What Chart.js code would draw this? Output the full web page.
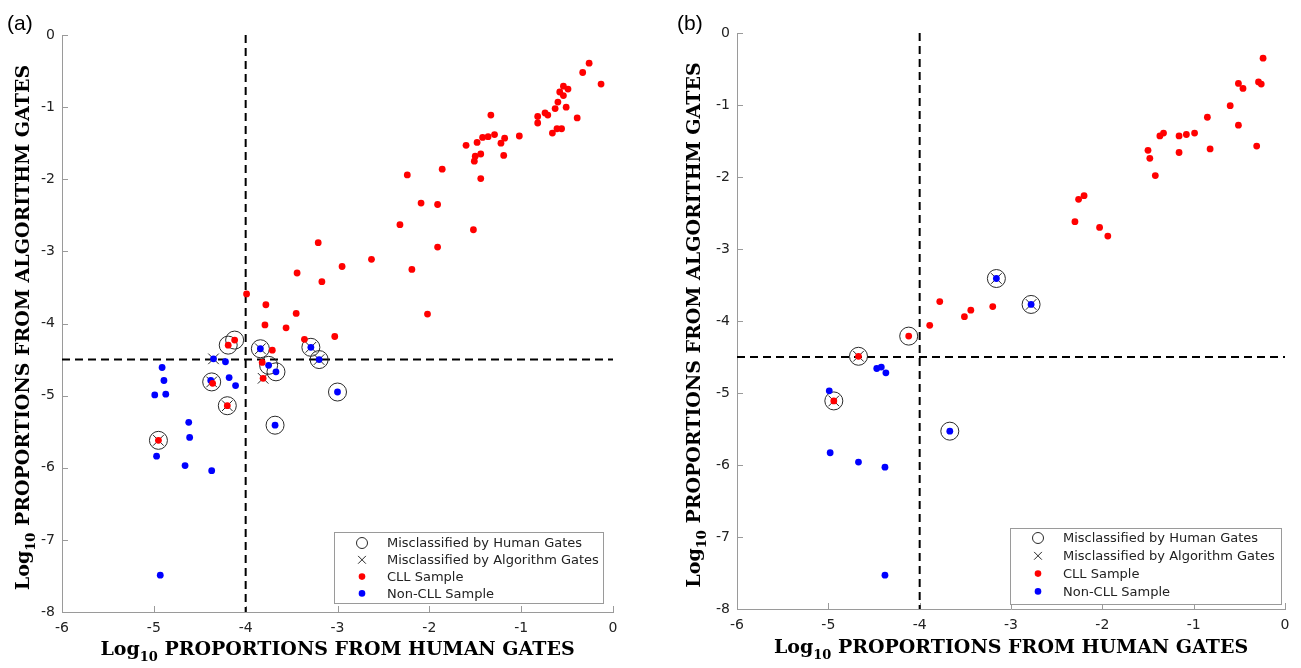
<!DOCTYPE html>
<html>
<head>
<meta charset="utf-8">
<script src="https://cdn.jsdelivr.net/npm/chart.js@4.4.0/dist/chart.umd.min.js"></script>
<style>
  html,body{margin:0;padding:0;background:#fff;}
  #wrap{position:relative;width:1301px;height:668px;overflow:hidden;}
  canvas{position:absolute;top:0;}
  #chartA{left:0;}
  #chartB{left:675px;}
</style>
</head>
<body>
<div id="wrap">
  <canvas id="chartA" width="650" height="668"></canvas>
  <canvas id="chartB" width="626" height="668"></canvas>
</div>
<script>
// axes / thresholds (log10 proportions)
const xTicks = [-6, -5, -4, -3, -2, -1, 0];
const yTicks = [0, -1, -2, -3, -4, -5, -6, -7, -8];
const humanThreshold = -4;    // vertical dashed line
const algoThreshold = -4.5;   // horizontal dashed line

// panel (a): [human, algorithm]
const cllA = [
  [-0.26,-0.39],[-0.33,-0.52],[-0.13,-0.68],[-0.54,-0.71],[-0.49,-0.75],[-0.58,-0.79],[-0.54,-0.84],
  [-0.60,-0.93],[-0.51,-1.00],[-0.63,-1.02],[-0.39,-1.15],[-0.82,-1.13],[-0.82,-1.22],[-0.74,-1.08],
  [-0.71,-1.11],[-0.56,-1.30],[-0.61,-1.30],[-0.66,-1.36],[-1.33,-1.11],[-1.02,-1.40],[-1.18,-1.43],
  [-1.22,-1.50],[-1.19,-1.67],[-1.29,-1.38],[-1.36,-1.41],[-1.42,-1.42],[-1.48,-1.49],[-1.60,-1.53],
  [-1.44,-1.65],[-1.50,-1.68],[-1.51,-1.75],[-1.44,-1.99],[-1.86,-1.86],[-2.24,-1.94],[-2.09,-2.33],
  [-1.91,-2.35],[-2.32,-2.63],[-1.52,-2.70],[-3.21,-2.88],[-1.91,-2.94],[-2.63,-3.11],[-2.19,-3.25],
  [-2.95,-3.21],[-3.44,-3.30],[-3.17,-3.42],[-3.99,-3.59],[-3.78,-3.74],[-3.45,-3.86],[-2.02,-3.87],
  [-3.79,-4.02],[-3.56,-4.06],[-3.03,-4.18],[-3.36,-4.22],[-4.12,-4.23],[-4.19,-4.30],[-3.71,-4.37],
  [-3.82,-4.54],[-3.81,-4.76],[-4.36,-4.83],[-4.20,-5.14],[-4.95,-5.62]
];
const nonCllA = [
  [-3.29,-4.33],[-3.84,-4.35],[-3.20,-4.50],[-4.35,-4.49],[-4.22,-4.53],[-3.75,-4.58],[-3.67,-4.67],
  [-4.91,-4.61],[-4.89,-4.79],[-4.99,-4.99],[-4.87,-4.98],[-4.38,-4.79],[-4.18,-4.75],[-4.11,-4.86],
  [-3.00,-4.95],[-3.68,-5.41],[-4.62,-5.37],[-4.61,-5.58],[-4.97,-5.84],[-4.66,-5.97],[-4.37,-6.04],
  [-4.93,-7.49]
];
const humanMissA = [
  [-4.12,-4.23],[-4.19,-4.30],[-3.84,-4.35],[-3.29,-4.33],[-3.20,-4.50],[-3.75,-4.58],[-3.67,-4.67],
  [-4.37,-4.81],[-4.20,-5.14],[-3.00,-4.95],[-3.68,-5.41],[-4.95,-5.62]
];
const algoMissA = [
  [-4.35,-4.49],[-3.84,-4.35],[-3.29,-4.33],[-3.20,-4.50],[-4.37,-4.81],[-4.20,-5.14],[-4.95,-5.62],
  [-3.81,-4.76]
];

// panel (b)
const cllB = [
  [-0.24,-0.35],[-0.51,-0.70],[-0.46,-0.77],[-0.29,-0.68],[-0.26,-0.71],[-0.60,-1.01],[-0.51,-1.28],
  [-0.31,-1.57],[-0.85,-1.17],[-0.82,-1.61],[-0.99,-1.39],[-1.08,-1.41],[-1.16,-1.43],[-1.16,-1.66],
  [-1.33,-1.39],[-1.37,-1.43],[-1.50,-1.63],[-1.48,-1.74],[-1.42,-1.98],[-2.20,-2.26],[-2.26,-2.31],
  [-2.30,-2.62],[-2.03,-2.70],[-1.94,-2.82],[-3.78,-3.73],[-3.20,-3.80],[-3.44,-3.85],[-3.51,-3.94],
  [-3.89,-4.06],[-4.12,-4.21],[-4.67,-4.49],[-4.94,-5.11]
];
const nonCllB = [
  [-3.16,-3.41],[-2.78,-3.77],[-4.47,-4.66],[-4.42,-4.64],[-4.37,-4.72],[-4.99,-4.97],[-3.67,-5.53],
  [-4.98,-5.83],[-4.67,-5.96],[-4.38,-6.03],[-4.38,-7.53]
];
const humanMissB = [[-3.16,-3.41],[-2.78,-3.77],[-4.12,-4.21],[-4.67,-4.49],[-4.94,-5.11],[-3.67,-5.53]];
const algoMissB = [[-3.16,-3.41],[-2.78,-3.77],[-4.67,-4.49],[-4.94,-5.11]];

const legendLabels = ['Misclassified by Human Gates','Misclassified by Algorithm Gates','CLL Sample','Non-CLL Sample'];

const pts = arr => arr.map(p => ({x:p[0], y:p[1]}));
const AXIS = '#9a9a9a';

function drawLogTitle(ctx, rest, cx, cy, rot){
  ctx.save();
  ctx.translate(cx, cy);
  if(rot) ctx.rotate(-Math.PI/2);
  const big = 'bold 19px "DejaVu Serif"', small = 'bold 13px "DejaVu Serif"';
  ctx.font = big; const w1 = ctx.measureText('Log').width, w3 = ctx.measureText(' '+rest).width;
  ctx.font = small; const w2 = ctx.measureText('10').width;
  let x = -(w1+w2+w3)/2;
  ctx.fillStyle = '#000'; ctx.textAlign = 'left'; ctx.textBaseline = 'alphabetic';
  ctx.font = big; ctx.fillText('Log', x, 0); x += w1;
  ctx.font = small; ctx.fillText('10', x, 6); x += w2;
  ctx.font = big; ctx.fillText(' '+rest, x, 0);
  ctx.restore();
}

const decor = {
  id: 'decor',
  beforeDatasetsDraw(chart){
    // inward tick marks
    const ctx = chart.ctx, {left, bottom} = chart.chartArea;
    const xs = chart.scales.x, ys = chart.scales.y;
    ctx.save();
    ctx.strokeStyle = AXIS; ctx.lineWidth = 1;
    ctx.beginPath();
    xTicks.forEach(v => { const p = Math.round(xs.getPixelForValue(v)) + 0.5; ctx.moveTo(p, bottom); ctx.lineTo(p, bottom - 6); });
    yTicks.forEach(v => { const p = Math.round(ys.getPixelForValue(v)) + 0.5; ctx.moveTo(left, p); ctx.lineTo(left + 6, p); });
    ctx.stroke();
    ctx.restore();
  },
  afterDraw(chart, args, o){
    const ctx = chart.ctx, {left, right, top, bottom} = chart.chartArea;
    drawLogTitle(ctx, 'PROPORTIONS FROM HUMAN GATES', (left+right)/2, o.xTitleY, false);
    drawLogTitle(ctx, 'PROPORTIONS FROM ALGORITHM GATES', o.yTitleX, (top+bottom)/2 + 4, true);
    ctx.save();
    ctx.fillStyle = '#000'; ctx.font = '21px "Liberation Sans"'; ctx.textBaseline = 'alphabetic';
    ctx.fillText(o.panel, o.panelX, 30);
    ctx.restore();
    // legend, markers taken from the dataset styles
    const L = o.legend;
    ctx.save();
    ctx.fillStyle = '#fff'; ctx.fillRect(L.x, L.y, L.w, L.h);
    ctx.strokeStyle = AXIS; ctx.lineWidth = 1;
    ctx.strokeRect(L.x+0.5, L.y+0.5, L.w, L.h);
    ctx.font = '13px "DejaVu Sans"'; ctx.textBaseline = 'middle'; ctx.textAlign = 'left';
    legendLabels.forEach((lab, i) => {
      const ds = chart.data.datasets[i];
      const cy = L.y + L.row0 + i*L.dy, mx = L.x + 28;
      ctx.fillStyle = ds.pointBackgroundColor; ctx.strokeStyle = ds.pointBorderColor;
      ctx.lineWidth = ds.pointBorderWidth;
      Chart.helpers.drawPoint(ctx, {pointStyle: ds.pointStyle, radius: i < 2 ? 5.5 : 3.3, rotation: 0, borderWidth: ds.pointBorderWidth}, mx, cy);
      ctx.fillStyle = '#222';
      ctx.fillText(lab, L.x + 53, cy + 1);
    });
    ctx.restore();
  }
};

function makeChart(id, cll, non, human, algo, pad, xH, o){
  return new Chart(document.getElementById(id), {
    type: 'scatter',
    data: {datasets: [
      {label: legendLabels[0], data: pts(human), pointStyle: 'circle', pointRadius: 9,
       pointBackgroundColor: 'rgba(0,0,0,0)', pointBorderColor: '#2a2a2a', pointBorderWidth: 1, order: 2},
      {label: legendLabels[1], data: pts(algo), pointStyle: 'crossRot', pointRadius: 7.5,
       pointBackgroundColor: 'rgba(0,0,0,0)', pointBorderColor: '#2a2a2a', pointBorderWidth: 1, order: 2},
      {label: legendLabels[2], data: pts(cll), pointStyle: 'circle', pointRadius: 3.4,
       pointBackgroundColor: '#ff0000', pointBorderColor: '#ff0000', pointBorderWidth: 0, order: 0},
      {label: legendLabels[3], data: pts(non), pointStyle: 'circle', pointRadius: 3.4,
       pointBackgroundColor: '#0000ff', pointBorderColor: '#0000ff', pointBorderWidth: 0, order: 0},
      {data: [{x: humanThreshold, y: yTicks[0]}, {x: humanThreshold, y: yTicks[yTicks.length-1]}], showLine: true,
       borderColor: '#000', borderWidth: 2, borderDash: [8, 5], pointRadius: 0, order: 3},
      {data: [{x: xTicks[0], y: algoThreshold}, {x: xTicks[xTicks.length-1], y: algoThreshold}], showLine: true,
       borderColor: '#000', borderWidth: 2, borderDash: [8, 5], pointRadius: 0, order: 3}
    ]},
    options: {
      responsive: false, animation: false, events: [],
      layout: {padding: pad},
      plugins: {legend: {display: false}, tooltip: {enabled: false}, decor: o},
      scales: {
        x: {type: 'linear', min: xTicks[0], max: xTicks[xTicks.length-1],
            afterBuildTicks: s => { s.ticks = xTicks.map(v => ({value: v})); },
            afterFit: s => { s.height = xH; },
            grid: {display: false, drawTicks: false},
            border: {display: true, color: AXIS, width: 1},
            ticks: {padding: 8, color: '#222', font: {family: 'DejaVu Sans', size: 14}, maxRotation: 0}},
        y: {type: 'linear', min: yTicks[yTicks.length-1], max: yTicks[0],
            afterBuildTicks: s => { s.ticks = yTicks.map(v => ({value: v})); },
            afterFit: s => { s.width = 62; },
            grid: {display: false, drawTicks: false},
            border: {display: true, color: AXIS, width: 1},
            ticks: {padding: 7, color: '#222', font: {family: 'DejaVu Sans', size: 14}}}
      }
    },
    plugins: [decor]
  });
}

makeChart('chartA', cllA, nonCllA, humanMissA, algoMissA,
  {left: 0, top: 35, right: 37, bottom: 0}, 56,
  {panel: '(a)', panelX: 7, xTitleY: 655, yTitleX: 29,
   legend: {x: 334, y: 532, w: 269, h: 71, row0: 11, dy: 16.8}});

makeChart('chartB', cllB, nonCllB, humanMissB, algoMissB,
  {left: 0, top: 33, right: 16, bottom: 0}, 59,
  {panel: '(b)', panelX: 2, xTitleY: 653, yTitleX: 25,
   legend: {x: 335, y: 528, w: 271, h: 76, row0: 10, dy: 17.8}});
</script>
</body>
</html>
